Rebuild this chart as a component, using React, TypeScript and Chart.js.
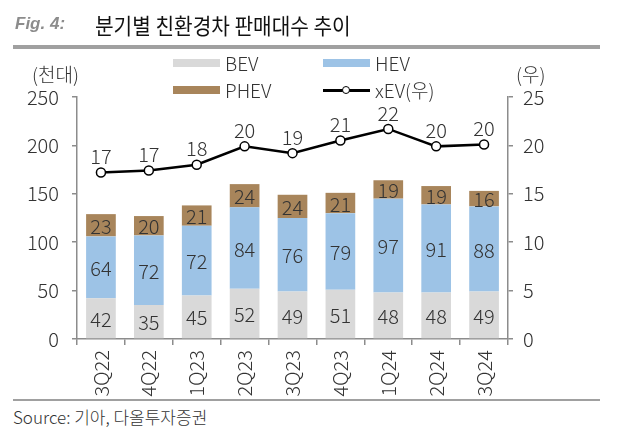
import React, { useEffect, useRef } from "react";
import { Chart, registerables } from "chart.js";

Chart.register(...registerables);

const categories = ["3Q22", "4Q22", "1Q23", "2Q23", "3Q23", "4Q23", "1Q24", "2Q24", "3Q24"];
const bevValues = [42, 35, 45, 52, 49, 51, 48, 48, 49];
const hevValues = [64, 72, 72, 84, 76, 79, 97, 91, 88];
const phevValues = [23, 20, 21, 24, 24, 21, 19, 19, 16];
const xevValues = [17.2, 17.4, 18.0, 19.9, 19.2, 20.5, 21.7, 19.9, 20.1];
const leftTicks = [0, 50, 100, 150, 200, 250];
const rightTicks = [0, 5, 10, 15, 20, 25];

const FONT = "'Noto Sans CJK KR', 'Noto Sans', sans-serif";
const TEXT = "#333333";
const AXIS = "#8c8c8c";
const C_BEV = "#d9d9d9";
const C_HEV = "#9dc3e6";
const C_PHEV = "#a8855b";

const labelPlugin = {
  id: "valueLabels",
  afterDatasetsDraw(chart: any) {
    const ctx = chart.ctx;
    ctx.save();
    ctx.font = `300 20px ${FONT}`;
    ctx.fillStyle = TEXT;
    ctx.textAlign = "center";
    ctx.textBaseline = "middle";
    chart.data.datasets.forEach((ds: any, i: number) => {
      const meta = chart.getDatasetMeta(i);
      meta.data.forEach((el: any, j: number) => {
        const v = ds.data[j];
        if (ds.type === "line") {
          ctx.fillText(String(Math.round(v)), el.x, el.y - 16);
        } else {
          const p = el.getProps(["x", "y", "base"], true);
          ctx.fillText(String(v), p.x, (p.y + p.base) / 2 + 1);
        }
      });
    });
    ctx.restore();
  },
};

export default function App() {
  const ref = useRef<HTMLCanvasElement | null>(null);

  useEffect(() => {
    if (!ref.current) return;
    const tickFont = { family: FONT, size: 20, weight: 300 as any };
    const chart = new Chart(ref.current, {
      type: "bar",
      data: {
        labels: categories,
        datasets: [
          {
            type: "line" as const,
            label: "xEV(우)",
            data: xevValues,
            yAxisID: "y2",
            borderColor: "#000",
            borderWidth: 2.5,
            pointRadius: 4.5,
            pointBorderWidth: 1.5,
            pointBackgroundColor: "#fff",
            pointBorderColor: "#000",
            tension: 0,
          },
          {
            type: "bar" as const,
            label: "BEV",
            data: bevValues,
            backgroundColor: C_BEV,
            yAxisID: "y",
            stack: "s",
          },
          {
            type: "bar" as const,
            label: "HEV",
            data: hevValues,
            backgroundColor: C_HEV,
            yAxisID: "y",
            stack: "s",
          },
          {
            type: "bar" as const,
            label: "PHEV",
            data: phevValues,
            backgroundColor: C_PHEV,
            yAxisID: "y",
            stack: "s",
          },
        ] as any,
      },
      options: {
        responsive: false,
        animation: false,
        devicePixelRatio: 1,
        datasets: { bar: { categoryPercentage: 0.62, barPercentage: 1 } },
        layout: { padding: { top: 97, left: 0, right: 0, bottom: 0 } },
        plugins: { legend: { display: false }, tooltip: { enabled: false } },
        scales: {
          x: {
            stacked: true,
            grid: { drawOnChartArea: false, drawTicks: true, tickLength: 6, color: AXIS, lineWidth: 1.5, offset: true },
            border: { color: AXIS, width: 1.5 },
            ticks: { font: tickFont, color: TEXT, maxRotation: 90, minRotation: 90, padding: 5 },
            afterFit: (s: any) => { s.height = 61; },
          },
          y: {
            stacked: true,
            position: "left",
            min: 0,
            max: 250,
            afterBuildTicks: (s: any) => { s.ticks = leftTicks.map((v) => ({ value: v })); },
            grid: { drawOnChartArea: false, drawTicks: true, tickLength: 5, color: AXIS, lineWidth: 1.5 },
            border: { color: AXIS, width: 1.5 },
            ticks: { font: tickFont, color: TEXT, padding: 13 },
            afterFit: (s: any) => { s.width = 77; },
          },
          y2: {
            position: "right",
            min: 0,
            max: 25,
            afterBuildTicks: (s: any) => { s.ticks = rightTicks.map((v) => ({ value: v })); },
            grid: { drawOnChartArea: false, drawTicks: true, tickLength: 5, color: AXIS, lineWidth: 1.5 },
            border: { color: AXIS, width: 1.5 },
            ticks: { font: tickFont, color: TEXT, padding: 10 },
            afterFit: (s: any) => { s.width = 123; },
          },
        },
      } as any,
      plugins: [labelPlugin],
    });
    return () => chart.destroy();
  }, []);

  const legendText: React.CSSProperties = {
    position: "absolute",
    font: `300 19px ${FONT}`,
    color: TEXT,
    lineHeight: "20px",
  };
  const swatch = (left: number, top: number, color: string): React.CSSProperties => ({
    position: "absolute",
    left,
    top,
    width: 47,
    height: 8,
    background: color,
  });

  return (
    <div style={{ position: "fixed", left: 0, top: 0, width: 631, height: 441, background: "#fff", overflow: "hidden" }}>
      <canvas ref={ref} width={631} height={400} style={{ position: "absolute", left: 0, top: 0, width: 631, height: 400 }} />
      <div style={{ position: "absolute", left: 15, top: 13, font: "italic bold 17px 'Liberation Sans', Arial, sans-serif", color: "#8c8c8c", lineHeight: "22px" }}>
        Fig. 4:
      </div>
      <div style={{ position: "absolute", left: 95, top: 11, font: `400 22px ${FONT}`, color: "#111", lineHeight: "26px", whiteSpace: "nowrap", transform: "scaleX(0.92)", transformOrigin: "left center" }}>
        분기별 친환경차 판매대수 추이
      </div>
      <div style={{ position: "absolute", left: 13, top: 45, width: 587, height: 4, background: "#a0a0a0" }} />

      <div style={swatch(173, 59, C_BEV)} />
      <div style={{ ...legendText, left: 225, top: 53 }}>BEV</div>
      <div style={swatch(323, 59, C_HEV)} />
      <div style={{ ...legendText, left: 375, top: 53 }}>HEV</div>
      <div style={swatch(173, 86, C_PHEV)} />
      <div style={{ ...legendText, left: 225, top: 80 }}>PHEV</div>
      <div style={{ position: "absolute", left: 323, top: 89, width: 47, height: 2.5, background: "#000" }} />
      <div style={{ position: "absolute", left: 342, top: 86, width: 6, height: 6, borderRadius: "50%", border: "1.5px solid #000", background: "#fff" }} />
      <div style={{ ...legendText, left: 375, top: 80 }}>xEV(우)</div>

      <div style={{ ...legendText, left: 32, top: 64 }}>(천대)</div>
      <div style={{ ...legendText, left: 516, top: 64 }}>(우)</div>

      <div style={{ position: "absolute", left: 13, top: 399, width: 587, height: 2, background: "#a0a0a0" }} />
      <div style={{ position: "absolute", left: 13, top: 407, font: `300 17px ${FONT}`, color: TEXT, lineHeight: "20px", whiteSpace: "nowrap" }}>
        Source: 기아, 다올투자증권
      </div>
    </div>
  );
}
